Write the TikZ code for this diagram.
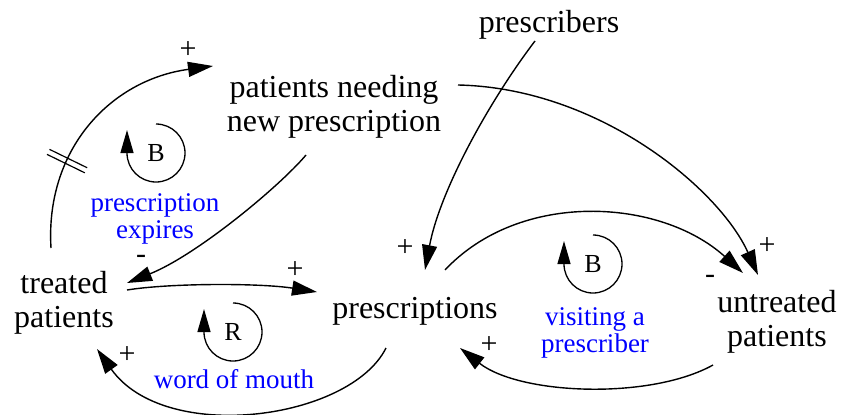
\documentclass[tikz,border=0pt]{standalone}
\usepackage{fontspec}
\setmainfont{Liberation Serif}
\usetikzlibrary{arrows.meta,decorations.markings}
\begin{document}
\begin{tikzpicture}[x=1pt,y=-1pt,
  var/.style={font=\fontsize{32}{34}\selectfont, align=center, inner sep=0pt, anchor=base},
  looplabel/.style={font=\fontsize{27}{27}\selectfont, text=blue, align=center, inner sep=0pt, anchor=base},
  loopletter/.style={font=\fontsize{26}{26}\selectfont, inner sep=0pt},
  polarity/.style={font=\fontsize{30}{30}\selectfont, inner sep=0pt},
  link/.style={line width=1.4pt, -{Triangle[length=25pt,width=15pt]}},
  looparrow/.style={line width=1.3pt, -{Triangle[length=23pt,width=13pt]}},
  delaymark/.style={postaction={decorate}, decoration={markings,
      mark=at position #1 with {\draw[line width=1.2pt,-] (-2.8pt,-21pt) -- (-2.8pt,21pt) (2.8pt,-21pt) -- (2.8pt,21pt);}}}
]
\useasboundingbox (0,0) rectangle (841,415);

% variables (base anchor = baseline of the last line)
\node[var] (prescribers) at (549,32) {prescribers};
\node[var] (needing) at (334,131) {patients needing\\new prescription};
\node[var] (treated) at (64,327) {treated\\patients};
\node[var] (rx) at (415,318) {prescriptions};
\node[var] (untreated) at (777,346) {untreated\\patients};

% causal links
\draw[link, delaymark=0.33] ([shift={(-13,-79)}]treated.base)
  .. controls +(-6,-98) and +(-103,14) .. ([shift={(-121,-65)}]needing.base);
\draw[link] ([shift={(-28,24)}]needing.base)
  .. controls +(-26,31) and +(70,-28) .. ([shift={(63,-44)}]treated.base);
\draw[link] ([shift={(63,-37)}]treated.base)
  .. controls +(43,-7) and +(-57,-9) .. ([shift={(-98,-26)}]rx.base);
\draw[link] ([shift={(-29,30)}]rx.base)
  .. controls +(-36,72) and +(68,96) .. ([shift={(33,22)}]treated.base);
\draw[link] ([shift={(-14,9)}]prescribers.base)
  .. controls +(-45,59) and +(15,-80) .. ([shift={(10,-48)}]rx.base);
\draw[link] ([shift={(124,-46)}]needing.base)
  .. controls +(142,3) and +(-38,-85) .. ([shift={(-19,-71)}]untreated.base);
\draw[link] ([shift={(30,-48)}]rx.base)
  .. controls +(75,-80) and +(-83,-75) .. ([shift={(-34,-73)}]untreated.base);
\draw[link] ([shift={(-64,19)}]untreated.base)
  .. controls +(-63,35) and +(60,47) .. ([shift={(45,30)}]rx.base);

% link polarities
\node[polarity] (s1) at (188,50) {+};
\node[polarity] (s2) at (141,259) {-};
\node[polarity] (s3) at (295,270) {+};
\node[polarity] (s4) at (127,355) {+};
\node[polarity] (s5) at (405,248) {+};
\node[polarity] (s6) at (767,246) {+};
\node[polarity] (s7) at (710,279) {-};
\node[polarity] (s8) at (489,345) {+};

% loop markers
\node[loopletter] (b1) at (156,153) {B};
\draw[looparrow] ([shift={(0,-29)}]b1.center) arc[start angle=90, end angle=-180, radius=29pt] -- ++(0,-23);
\node[loopletter] (r1) at (233,332) {R};
\draw[looparrow] ([shift={(0,-29)}]r1.center) arc[start angle=90, end angle=-180, radius=29pt] -- ++(0,-23);
\node[loopletter] (b2) at (593,264) {B};
\draw[looparrow] ([shift={(0,-29)}]b2.center) arc[start angle=90, end angle=-180, radius=29pt] -- ++(0,-23);

% loop names (base anchor = baseline of the last line)
\node[looplabel] (expires) at (155,238) {prescription\\expires};
\node[looplabel] (mouth) at (234,388) {word of mouth};
\node[looplabel] (visiting) at (595,352) {visiting a\\prescriber};
\end{tikzpicture}
\end{document}
